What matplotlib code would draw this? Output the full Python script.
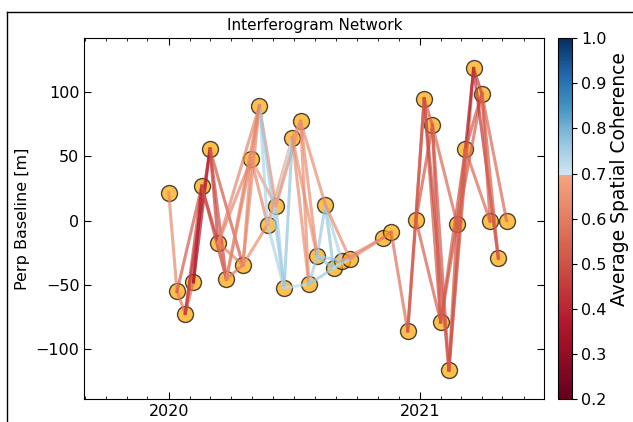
import numpy as np
import matplotlib
matplotlib.use("Agg")
import matplotlib.pyplot as plt
import matplotlib.dates as mdates
from matplotlib.colors import LinearSegmentedColormap, Normalize
from matplotlib.cm import ScalarMappable
from matplotlib.lines import Line2D
from matplotlib.ticker import MultipleLocator
from datetime import datetime

# -----------------------------
# DATA
# -----------------------------
date_list = [
    "20200101", "20200113", "20200125", "20200206", "20200218", "20200301",
    "20200313", "20200325", "20200418", "20200430", "20200512", "20200524",
    "20200605", "20200617", "20200629", "20200711", "20200723", "20200804",
    "20200816", "20200828", "20200909", "20200921", "20201108", "20201120",
    "20201214", "20201226", "20210107", "20210119", "20210131", "20210212",
    "20210224", "20210308", "20210320", "20210401", "20210413", "20210425",
    "20210507",
]
pbase_list = [
    21.6, -55.2, -72.4, -47.7, 26.8, 55.7,
    -17.4, -45.6, -34.6, 47.9, 89.3, -3.1,
    11.5, -52.6, 64.6, 77.3, -49.5, -27.9,
    12.5, -37.2, -31.3, -30.0, -13.5, -9.1,
    -86.0, 0.5, 95.0, 74.2, -79.0, -116.4,
    -2.6, 55.5, 118.5, 99.0, -0.5, -29.4,
    0.0,
]

# interferogram pairs (index into date_list) and their average coherence
ifg_pairs = [
    (0, 1), (1, 2), (1, 4), (2, 3), (2, 4), (2, 5), (3, 4), (3, 5),
    (4, 6), (4, 7), (5, 6), (5, 7), (5, 8), (6, 7), (6, 8), (6, 9),
    (7, 8), (7, 9), (8, 9), (8, 10), (8, 11), (9, 10), (9, 11), (9, 12),
    (10, 11), (10, 12), (10, 13), (11, 12), (11, 13), (11, 14), (12, 13),
    (12, 14), (12, 15), (13, 14), (13, 16), (14, 15), (14, 16), (14, 17),
    (15, 16), (15, 17), (15, 18), (16, 17), (16, 19), (17, 18), (17, 19),
    (17, 20), (18, 19), (18, 20), (18, 21), (19, 20), (19, 21), (20, 21),
    (20, 22), (21, 22), (22, 23), (23, 24), (24, 25), (24, 26), (25, 26),
    (25, 27), (25, 28), (26, 27), (26, 28), (26, 29), (27, 28), (27, 29),
    (27, 30), (28, 30), (28, 31), (29, 30), (29, 31), (29, 32), (30, 31),
    (30, 33), (31, 32), (31, 33), (31, 34), (32, 33), (32, 35), (33, 34),
    (33, 35), (33, 36), (6, 10), (7, 10),
]
ifg_coh = [
    0.63, 0.60, 0.52, 0.57, 0.48, 0.45, 0.38, 0.36,
    0.49, 0.49, 0.46, 0.49, 0.51, 0.57, 0.61, 0.62,
    0.60, 0.62, 0.63, 0.63, 0.64, 0.63, 0.63, 0.66,
    0.74, 0.64, 0.76, 0.72, 0.74, 0.68, 0.75,
    0.71, 0.64, 0.77, 0.72, 0.65, 0.64, 0.65,
    0.64, 0.64, 0.64, 0.75, 0.76, 0.76, 0.77,
    0.75, 0.77, 0.74, 0.64, 0.73, 0.72, 0.73,
    0.63, 0.63, 0.60, 0.57, 0.53, 0.51, 0.51,
    0.51, 0.53, 0.52, 0.51, 0.49, 0.51, 0.51,
    0.55, 0.52, 0.52, 0.51, 0.50, 0.51, 0.53,
    0.53, 0.37, 0.51, 0.55, 0.46, 0.44, 0.53,
    0.53, 0.55, 0.62, 0.62,
]

cbar_ticks = [0.2, 0.3, 0.4, 0.5, 0.6, 0.7, 0.8, 0.9, 1.0]

# -----------------------------
# COLORMAP: RdBu split at 0.7
# -----------------------------
vmin, vsplit, vmax = 0.2, 0.7, 1.0
base = plt.get_cmap("RdBu")
n_lo = int(256 * (vsplit - vmin) / (vmax - vmin))
colors = np.vstack([base(np.linspace(0.0, 0.3, n_lo)),
                    base(np.linspace(0.6, 1.0, 256 - n_lo))])
cmap = LinearSegmentedColormap.from_list("RdBu_split", colors, N=256)
norm = Normalize(vmin=vmin, vmax=vmax)

# -----------------------------
# PLOT
# -----------------------------
dates = [datetime.strptime(d, "%Y%m%d") for d in date_list]

fig = plt.figure(figsize=(6.33, 4.22), dpi=100)
ax = fig.add_axes([0.1332, 0.0545, 0.7267, 0.8547])
cax = fig.add_axes([0.882, 0.0545, 0.0212, 0.8547])

ax.plot(dates, pbase_list, "o", ms=11.5, mfc="orange", mec="k", mew=1.0,
        alpha=0.7, zorder=2)

for (i, j), coh in zip(ifg_pairs, ifg_coh):
    ax.plot([dates[i], dates[j]], [pbase_list[i], pbase_list[j]], "-",
            lw=2.2, alpha=0.7, color=cmap(norm(coh)), zorder=3)

ax.set_xlim(datetime(2019, 8, 31), datetime(2021, 7, 1))
ax.set_ylim(-139, 142)
ax.xaxis.set_major_locator(mdates.YearLocator())
ax.xaxis.set_major_formatter(mdates.DateFormatter("%Y"))
ax.xaxis.set_minor_locator(mdates.MonthLocator())
ax.yaxis.set_major_locator(MultipleLocator(50))
ax.tick_params(which="both", direction="in", top=True, right=True,
               labelsize=11.5)
ax.tick_params(which="major", length=5)
ax.tick_params(which="minor", length=2.5)

ax.set_title("Interferogram Network", fontsize=11)
ax.set_ylabel("Perp Baseline [m]", fontsize=11.5)

cbar = fig.colorbar(ScalarMappable(norm=norm, cmap=cmap), cax=cax,
                    ticks=cbar_ticks)
cbar.ax.tick_params(labelsize=11.5)
cbar.set_label("Average Spatial Coherence", fontsize=13.5)
cbar.ax.yaxis.set_label_coords(3.85, 0.61)

# frame of the screenshot
fx, fy = 7 / 633, 1 - 12 / 422
fig.add_artist(Line2D([fx, fx], [0, fy], transform=fig.transFigure,
                      color="k", lw=1))
fig.add_artist(Line2D([fx, 1], [fy, fy], transform=fig.transFigure,
                      color="k", lw=1))

fig.savefig("out.png", dpi=100)
